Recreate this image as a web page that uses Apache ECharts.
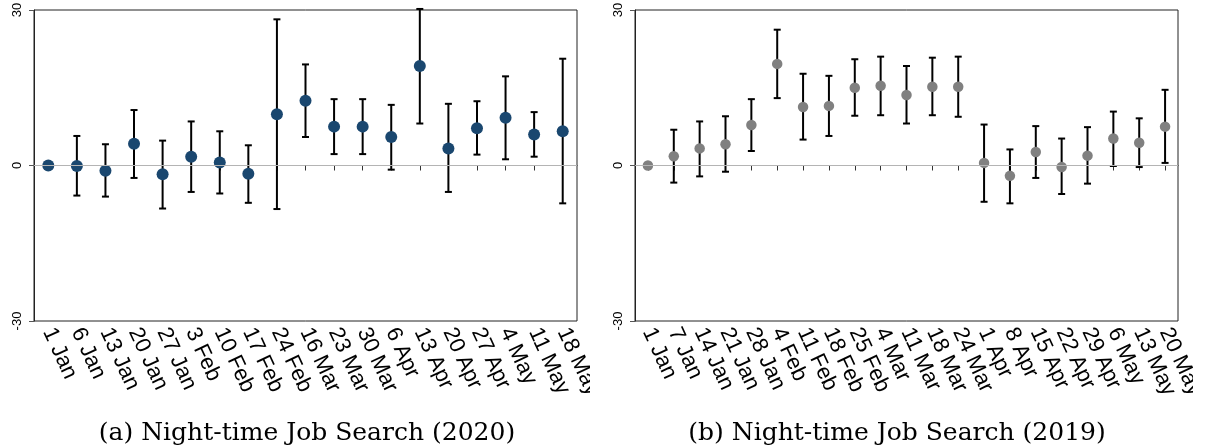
<!DOCTYPE html>
<html>
<head>
<meta charset="utf-8">
<script src="https://cdn.jsdelivr.net/npm/echarts@6/dist/echarts.min.js"></script>
<style>
  html, body { margin: 0; padding: 0; background: #fff; }
  #wrap { position: relative; width: 1205px; height: 448px; overflow: hidden; }
  .panel { position: absolute; top: 0; height: 448px; overflow: hidden; }
  #p2020 { left: 0; width: 590px; }
  #p2019 { left: 590px; width: 603px; }
</style>
</head>
<body>
<div id="wrap">
  <div id="p2020" class="panel"></div>
  <div id="p2019" class="panel"></div>
</div>
<script>
// Weekly estimates of night-time job search with 95% confidence intervals.
const weeks2020 = ['1 Jan', '6 Jan', '13 Jan', '20 Jan', '27 Jan', '3 Feb', '10 Feb', '17 Feb', '24 Feb',
  '16 Mar', '23 Mar', '30 Mar', '6 Apr', '13 Apr', '20 Apr', '27 Apr', '4 May', '11 May', '18 May'];
const est2020 = [0, -0.1, -1.0, 4.2, -1.7, 1.7, 0.6, -1.6, 9.9, 12.5, 7.5, 7.5, 5.5, 19.2, 3.3, 7.2, 9.2, 6.0, 6.6];
const lo2020 = [null, -5.8, -6.0, -2.4, -8.3, -5.1, -5.4, -7.2, -8.4, 5.5, 2.2, 2.2, -0.8, 8.1, -5.1, 2.1, 1.2, 1.7, -7.3];
const hi2020 = [null, 5.7, 4.1, 10.7, 4.8, 8.5, 6.6, 3.9, 28.2, 19.5, 12.8, 12.8, 11.7, 30.2, 11.9, 12.4, 17.2, 10.3, 20.6];

const weeks2019 = ['1 Jan', '7 Jan', '14 Jan', '21 Jan', '28 Jan', '4 Feb', '11 Feb', '18 Feb', '25 Feb', '4 Mar',
  '11 Mar', '18 Mar', '24 Mar', '1 Apr', '8 Apr', '15 Apr', '22 Apr', '29 Apr', '6 May', '13 May', '20 May'];
const est2019 = [0, 1.8, 3.3, 4.1, 7.8, 19.6, 11.3, 11.5, 15.0, 15.4, 13.6, 15.2, 15.2, 0.5, -2.0, 2.6, -0.3, 1.9, 5.2, 4.4, 7.5];
const lo2019 = [null, -3.3, -2.1, -1.2, 2.8, 13.0, 5.0, 5.7, 9.6, 9.7, 8.1, 9.7, 9.4, -7.0, -7.3, -2.4, -5.5, -3.5, -0.1, -0.3, 0.5];
const hi2019 = [null, 6.9, 8.5, 9.5, 12.8, 26.2, 17.7, 17.3, 20.5, 21.0, 19.2, 20.8, 21.0, 7.9, 3.1, 7.6, 5.2, 7.4, 10.4, 9.1, 14.6];

const yTicks = [-30, 0, 30];

const SANS = 'Liberation Sans';
const SERIF = 'DejaVu Serif';

// Vertical capped interval drawn through the axes' own coordinate mapping.
function capRenderer(params, api) {
  const lo = api.value(1), hi = api.value(2);
  if (lo == null || hi == null || isNaN(lo) || isNaN(hi)) return null;
  const a = api.coord([api.value(0), lo]);
  const b = api.coord([api.value(0), hi]);
  const hw = 3.5;
  const style = { stroke: '#000', lineWidth: 2, fill: null };
  return {
    type: 'group',
    children: [
      { type: 'line', shape: { x1: a[0], y1: a[1], x2: b[0], y2: b[1] }, style },
      { type: 'line', shape: { x1: a[0] - hw, y1: a[1], x2: a[0] + hw, y2: a[1] }, style },
      { type: 'line', shape: { x1: b[0] - hw, y1: b[1], x2: b[0] + hw, y2: b[1] }, style }
    ]
  };
}

function buildPanel(el, cfg) {
  const chart = echarts.init(el, null, { renderer: 'canvas' });
  const ciData = cfg.cats.map((c, i) => [i, cfg.lo[i], cfg.hi[i]]);
  const ptData = cfg.cats.map((c, i) => [i, cfg.est[i]]);
  chart.setOption({
    animation: false,
    backgroundColor: '#fff',
    textStyle: { fontFamily: SANS },
    title: {
      text: cfg.caption,
      left: cfg.captionX,
      top: 416,
      textAlign: 'center',
      textStyle: { fontFamily: SERIF, fontSize: 25, fontWeight: 'normal', color: '#000' }
    },
    grid: {
      left: cfg.gridLeft, width: cfg.gridWidth, top: 10, height: 311,
      outerBoundsMode: 'none', containLabel: false,
      show: true, borderColor: '#222', borderWidth: 1, backgroundColor: '#fff'
    },
    xAxis: {
      type: 'category',
      data: cfg.cats,
      boundaryGap: true,
      axisLine: { show: true, lineStyle: { color: '#222', width: 1 } },
      axisTick: { show: true, alignWithLabel: true, length: 5, lineStyle: { color: '#333' } },
      axisLabel: {
        interval: 0, rotate: -65, margin: 8, hideOverlap: false,
        fontFamily: SANS, fontSize: 22, color: '#000'
      },
      splitLine: { show: false }
    },
    yAxis: {
      type: 'value',
      min: yTicks[0], max: yTicks[yTicks.length - 1], interval: 30,
      axisLine: { show: true, lineStyle: { color: '#222', width: 1 } },
      axisTick: { show: true, length: 5, lineStyle: { color: '#555' } },
      axisLabel: { rotate: 90, margin: 10, fontFamily: SANS, fontSize: 13, color: '#000' },
      splitLine: { show: false }
    },
    series: [
      {
        type: 'custom',
        renderItem: capRenderer,
        data: ciData,
        encode: { x: 0, y: [1, 2] },
        clip: false,
        z: 3,
        markLine: {
          silent: true, symbol: 'none', label: { show: false },
          lineStyle: { color: '#b4b4b4', width: 1, type: 'solid' },
          data: [{ yAxis: 0 }]
        }
      },
      {
        type: 'scatter',
        data: ptData,
        symbol: 'circle',
        symbolSize: cfg.markerSize,
        itemStyle: { color: cfg.markerColor, opacity: 1 },
        clip: false,
        z: 4
      }
    ]
  });
  return chart;
}

buildPanel(document.getElementById('p2020'), {
  cats: weeks2020, est: est2020, lo: lo2020, hi: hi2020,
  gridLeft: 34, gridWidth: 543,
  markerColor: '#1a476f', markerSize: 12,
  caption: '(a) Night-time Job Search (2020)', captionX: 302
});

buildPanel(document.getElementById('p2019'), {
  cats: weeks2019, est: est2019, lo: lo2019, hi: hi2019,
  gridLeft: 45, gridWidth: 543,
  markerColor: '#808080', markerSize: 10.5,
  caption: '(b) Night-time Job Search (2019)', captionX: 302
});
</script>
</body>
</html>
